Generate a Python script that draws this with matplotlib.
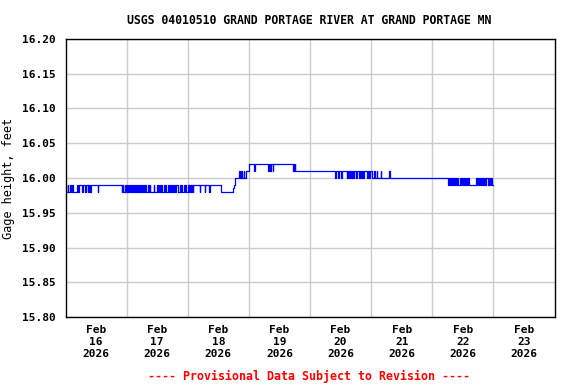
import numpy as np
import matplotlib.pyplot as plt

# Gage height change points: hours since Feb 16 2026 00:00, and the level that starts there
hours = [0.0, 0.3, 0.8, 1.0, 1.8, 2.0, 2.5, 2.8, 4.5, 4.8, 5.2,
         6.6, 6.8, 7.7, 7.9, 8.8, 9.0, 9.2, 9.5, 9.6, 9.9, 12.7, 12.9,
         22.0, 22.3, 22.6, 23.2, 23.5, 23.7, 24.0, 24.6, 25.0, 25.3, 25.6, 26.2,
         26.5, 26.8, 27.2, 27.8, 28.1, 28.3, 28.7, 29.3, 29.6, 29.9, 30.3, 30.9,
         31.2, 31.4, 31.8, 32.2, 32.6, 33.0, 33.3, 34.6, 34.8, 36.0,
         36.4, 36.8, 37.2, 37.6, 38.0, 38.5, 38.9, 39.2, 39.6, 40.2, 40.6, 40.9,
         41.3, 41.8, 42.2, 42.5, 43.0, 43.3, 44.3, 44.8, 45.2, 45.5, 45.9, 46.4,
         46.8, 47.1, 47.5, 48.0, 48.4, 48.7, 49.2, 49.5, 49.9, 50.2,
         52.7, 52.9, 54.7, 54.9, 56.4, 56.6,
         61.0, 65.7, 66.0, 66.7, 68.2, 68.5, 68.9, 69.3, 70.0, 70.2, 70.8, 72.1,
         74.1, 74.4, 79.4, 79.8, 80.2, 80.7, 81.3, 81.6, 89.4, 89.6, 89.8, 90.0,
         90.1, 90.4,
         105.9, 106.2, 107.0, 107.3, 108.3, 108.5, 110.4, 110.7, 111.0, 111.3,
         111.7, 112.0, 112.4, 112.7, 113.1, 113.4, 113.9, 114.3, 115.4, 115.7,
         116.0, 116.4, 116.8, 117.3, 118.4, 118.8, 119.3, 119.6, 120.4, 121.0,
         121.5, 122.2, 122.4, 123.8, 124.0, 127.1, 127.3,
         150.0, 150.5, 150.8, 151.3, 151.7, 152.1, 152.5, 153.0, 153.4, 153.8,
         154.2, 154.7, 155.1, 155.5, 156.0, 156.4, 156.8, 157.3, 157.7, 158.1,
         158.6, 161.0, 161.4, 161.8, 162.2, 162.7, 163.1, 163.5, 164.0, 164.4,
         164.8, 165.3, 165.7, 166.1, 166.6, 167.0, 167.4, 168.0]
levels = [15.99, 15.98, 15.99, 15.98, 15.99, 15.98, 15.99, 15.98, 15.99, 15.98, 15.99,
          15.98, 15.99, 15.98, 15.99, 15.98, 15.99, 15.98, 15.99, 15.98, 15.99, 15.98, 15.99,
          15.98, 15.99, 15.98, 15.99, 15.98, 15.99, 15.98, 15.99, 15.98, 15.99, 15.98, 15.99,
          15.98, 15.99, 15.98, 15.99, 15.98, 15.99, 15.98, 15.99, 15.98, 15.99, 15.98, 15.99,
          15.98, 15.99, 15.98, 15.99, 15.98, 15.99, 15.98, 15.99, 15.98, 15.99,
          15.98, 15.99, 15.98, 15.99, 15.98, 15.99, 15.98, 15.99, 15.98, 15.99, 15.98, 15.99,
          15.98, 15.99, 15.98, 15.99, 15.98, 15.99, 15.98, 15.99, 15.98, 15.99, 15.98, 15.99,
          15.98, 15.99, 15.98, 15.99, 15.98, 15.99, 15.98, 15.99, 15.98, 15.99,
          15.98, 15.99, 15.98, 15.99, 15.98, 15.99,
          15.98, 15.985, 15.99, 16.00, 16.01, 16.00, 16.01, 16.00, 16.01, 16.00, 16.01, 16.02,
          16.01, 16.02, 16.01, 16.02, 16.01, 16.02, 16.01, 16.02, 16.01, 16.02, 16.01, 16.02,
          16.01, 16.01,
          16.00, 16.01, 16.00, 16.01, 16.00, 16.01, 16.00, 16.01, 16.00, 16.01,
          16.00, 16.01, 16.00, 16.01, 16.00, 16.01, 16.00, 16.01, 16.00, 16.01,
          16.00, 16.01, 16.00, 16.01, 16.00, 16.01, 16.00, 16.01, 16.00, 16.01,
          16.00, 16.01, 16.00, 16.01, 16.00, 16.01, 16.00,
          15.99, 16.00, 15.99, 16.00, 15.99, 16.00, 15.99, 16.00, 15.99, 16.00,
          15.99, 16.00, 15.99, 16.00, 15.99, 16.00, 15.99, 16.00, 15.99, 16.00,
          15.99, 16.00, 15.99, 16.00, 15.99, 16.00, 15.99, 16.00, 15.99, 16.00,
          15.99, 16.00, 15.99, 16.00, 15.99, 16.00, 15.99, 15.99]

day_labels = ["Feb\n16\n2026", "Feb\n17\n2026", "Feb\n18\n2026", "Feb\n19\n2026",
              "Feb\n20\n2026", "Feb\n21\n2026", "Feb\n22\n2026", "Feb\n23\n2026"]
y_ticks = [15.80, 15.85, 15.90, 15.95, 16.00, 16.05, 16.10, 16.15, 16.20]

plt.rcParams['font.family'] = 'DejaVu Sans Mono'
plt.rcParams['font.weight'] = 'bold'
plt.rcParams['font.size'] = 8

fig = plt.figure(figsize=(5.76, 3.84), dpi=100)
ax = fig.add_axes([65.5/576, 1 - 317/384, 489/576, 278/384])

ax.step(hours, levels, where='post', color='#0000ff', lw=0.9)

ax.set_xlim(0, 192)
ax.set_ylim(15.80, 16.20)
ax.set_yticks(y_ticks)
ax.set_yticklabels(["%.2f" % v for v in y_ticks])
ax.set_xticks(np.arange(24, 192, 24))
ax.set_xticklabels([])
ax.set_xticks(np.arange(12, 192, 24), minor=True)
ax.set_xticklabels(day_labels, minor=True)
ax.tick_params(which='both', length=0)
ax.tick_params(axis='x', which='minor', pad=6)
ax.tick_params(axis='y', pad=7)
ax.grid(True, which='major', color='#cccccc', lw=1)
ax.set_axisbelow(True)
for s in ax.spines.values():
    s.set_color('black')
    s.set_linewidth(1)

ax.set_ylabel("Gage height, feet", fontsize=8.6, labelpad=5)
fig.text(309/576, 1 - 20/384, "USGS 04010510 GRAND PORTAGE RIVER AT GRAND PORTAGE MN",
         ha='center', va='center', fontsize=8.3)
fig.text(309/576, 1 - 376/384, "---- Provisional Data Subject to Revision ----",
         ha='center', va='center', color='red', fontsize=8.4)

fig.savefig("out.png", dpi=100)
